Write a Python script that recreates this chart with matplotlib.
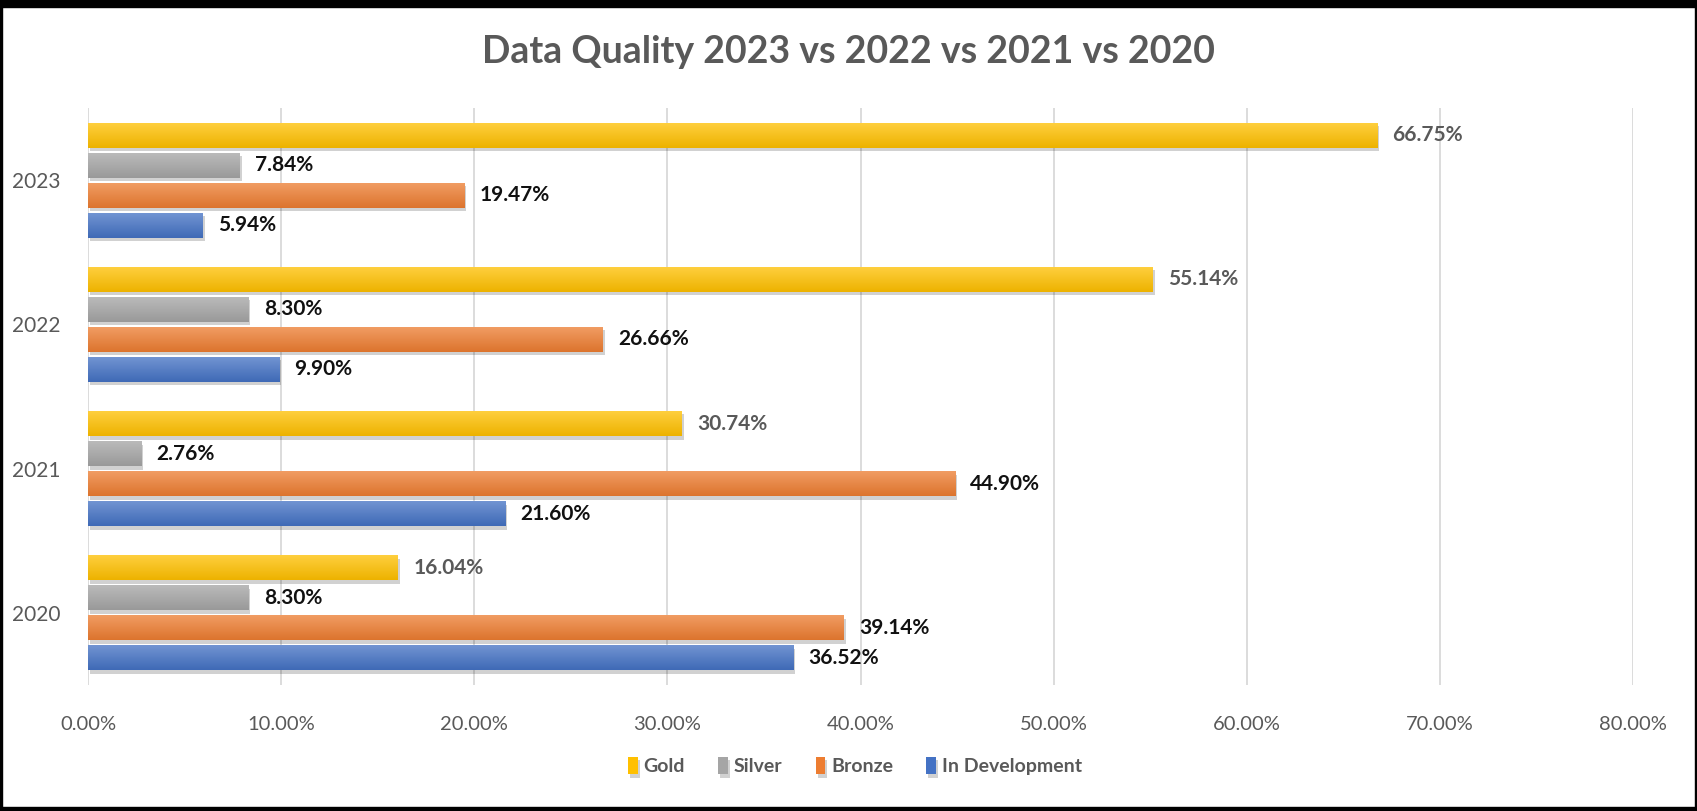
import numpy as np
import matplotlib
matplotlib.use('Agg')
import matplotlib.pyplot as plt
import matplotlib.patheffects as pe
import matplotlib.colors as mcolors
from matplotlib.patches import Rectangle
from matplotlib.ticker import FuncFormatter

# --- DATA ---
years = ['2020', '2021', '2022', '2023']
series_names = ['Gold', 'Silver', 'Bronze', 'In Development']
gold = [16.04, 30.74, 55.14, 66.75]
silver = [8.30, 2.76, 8.30, 7.84]
bronze = [39.14, 44.90, 26.66, 19.47]
in_dev = [36.52, 21.60, 9.90, 5.94]

colors = ['#FFC000', '#A5A5A5', '#ED7D31', '#4472C4']
label_colors = ['#595959', '#111111', '#111111', '#111111']

plt.rcParams['font.family'] = ['Lato', 'DejaVu Sans']

fig = plt.figure(figsize=(16.97, 8.11), dpi=100)
ax = fig.add_axes([0.0519, 0.1554, 0.9104, 0.7114])

y = np.arange(len(years))
pitch = 30 / 144
bar_h = 25 / 144
offsets = [1.5 * pitch, 0.5 * pitch, -0.5 * pitch, -1.5 * pitch]

shadow = [pe.SimplePatchShadow(offset=(1.5, -2.5), shadow_rgbFace='black', alpha=0.18), pe.Normal()]


def gradient_fill(bar, col):
    # light top edge, slightly darker bottom, like the excel bar style
    base = np.array(mcolors.to_rgb(col))
    top = base + (1 - base) * 0.25
    bottom = base * 0.93
    t = np.linspace(0, 1, 32)[:, None]
    img = top * (1 - t) + bottom * t
    img = img[:, None, :]
    x0, y0 = bar.get_x(), bar.get_y()
    w, h = bar.get_width(), bar.get_height()
    im = ax.imshow(img, extent=(x0, x0 + w, y0, y0 + h), origin='upper',
                   aspect='auto', zorder=3.5, interpolation='bilinear')
    im.set_clip_path(bar)


for vals, name, col, lcol, off in zip([gold, silver, bronze, in_dev], series_names,
                                      colors, label_colors, offsets):
    bars = ax.barh(y + off, vals, height=bar_h, color=col, label=name, zorder=3)
    for b in bars:
        b.set_path_effects(shadow)
        gradient_fill(b, col)
    for yi, v in zip(y + off, vals):
        ax.annotate(f'{v:.2f}%', (v, yi), xytext=(11, 0), textcoords='offset points',
                    ha='left', va='center', fontsize=15, fontweight='bold', color=lcol, zorder=4)

ax.set_xlim(0, 80)
ax.set_ylim(-0.5, 3.5)
ax.set_xticks(np.arange(0, 81, 10))
ax.xaxis.set_major_formatter(FuncFormatter(lambda v, p: f'{v:.2f}%'))
ax.set_yticks(y)
ax.set_yticklabels(years)
ax.tick_params(axis='both', length=0, labelcolor='#595959')
ax.tick_params(axis='x', pad=22, labelsize=14.5)
ax.tick_params(axis='y', pad=20, labelsize=15)
ax.grid(True, axis='x', color='#D9D9D9', linewidth=1.3, zorder=0)
ax.set_axisbelow(True)
for s in ax.spines.values():
    s.set_visible(False)

fig.text(0.5, 1 - 52 / 811, 'Data Quality 2023 vs 2022 vs 2021 vs 2020', ha='center', va='center',
         fontsize=27, fontweight='bold', color='#595959')

fig.legend(loc='center', bbox_to_anchor=(855 / 1697, 1 - 766 / 811), ncol=4, frameon=False,
           handlelength=0.5, handleheight=1.0, handletextpad=0.3, columnspacing=1.7,
           prop={'size': 14, 'weight': 'bold'}, labelcolor='#595959')

# black frame around the chart
fig.patches.append(Rectangle((0, 1 - 7 / 811), 1, 7 / 811, transform=fig.transFigure,
                             color='black', zorder=10))
fig.patches.append(Rectangle((0, 0), 1, 4 / 811, transform=fig.transFigure,
                             color='black', zorder=10))
fig.patches.append(Rectangle((0, 0), 2 / 1697, 1, transform=fig.transFigure,
                             color='black', zorder=10))
fig.patches.append(Rectangle((1 - 2 / 1697, 0), 2 / 1697, 1, transform=fig.transFigure,
                             color='black', zorder=10))

fig.savefig('out.png', dpi=100)
